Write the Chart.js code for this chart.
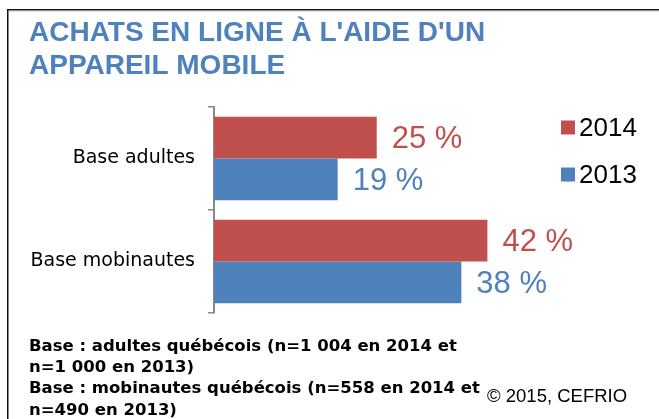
<!DOCTYPE html>
<html>
<head>
<meta charset="utf-8">
<script src="https://cdn.jsdelivr.net/npm/chart.js@4.4.1/dist/chart.umd.min.js"></script>
<style>
  html, body { margin: 0; padding: 0; background: #ffffff; }
  #wrap { position: relative; width: 659px; height: 419px; overflow: hidden; }
</style>
</head>
<body>
<div id="wrap"><canvas id="c" width="659" height="419"></canvas></div>
<script>
const titleLines = ["ACHATS EN LIGNE À L'AIDE D'UN", "APPAREIL MOBILE"];
const categories = ["Base adultes", "Base mobinautes"];
const seriesNames = ["2014", "2013"];
const values2014 = [25, 42];
const values2013 = [19, 38];
const footerLines = [
  "Base : adultes québécois (n=1 004 en 2014 et",
  "n=1 000 en 2013)",
  "Base : mobinautes québécois (n=558 en 2014 et",
  "n=490 en 2013)"
];
const copyrightText = "© 2015, CEFRIO";

const RED = "#C0504D";
const BLUE = "#4F81BD";
const SANS = "'Liberation Sans', Arial, sans-serif";
const WIDE = "'DejaVu Sans', sans-serif";

const framePlugin = {
  id: "frame",
  beforeDraw(chart) {
    const ctx = chart.ctx;
    ctx.save();
    ctx.fillStyle = "#ffffff";
    ctx.fillRect(0, 0, chart.width, chart.height);
    ctx.fillStyle = "#111111";
    ctx.fillRect(7, 9, chart.width - 7, 1.5);
    ctx.fillRect(7, 9, 1.5, chart.height - 9);
    ctx.fillStyle = "#9a9a9a";
    ctx.fillRect(8.5, 10.5, chart.width - 8.5, 0.8);
    ctx.restore();
  }
};

const valueLabelPlugin = {
  id: "valueLabels",
  afterDatasetsDraw(chart) {
    const ctx = chart.ctx;
    ctx.save();
    ctx.font = "31px " + SANS;
    ctx.textAlign = "left";
    ctx.textBaseline = "middle";
    chart.data.datasets.forEach((ds, i) => {
      const meta = chart.getDatasetMeta(i);
      meta.data.forEach((bar, j) => {
        ctx.fillStyle = ds.backgroundColor;
        ctx.fillText(ds.data[j] + " %", bar.x + 15, bar.y + 2);
      });
    });
    ctx.restore();
  }
};

const sideLegendPlugin = {
  id: "sideLegend",
  afterDraw(chart) {
    const ctx = chart.ctx;
    ctx.save();
    ctx.font = "26px " + SANS;
    ctx.textAlign = "left";
    ctx.textBaseline = "middle";
    const ys = [127.5, 174.5];
    chart.data.datasets.forEach((ds, i) => {
      ctx.fillStyle = ds.backgroundColor;
      ctx.fillRect(561, ys[i] - 7, 14, 14);
      ctx.fillStyle = "#000000";
      ctx.fillText(ds.label, 579, ys[i] + 1);
    });
    ctx.font = "18.5px " + SANS;
    ctx.textBaseline = "alphabetic";
    ctx.fillText(copyrightText, 487, 402);
    ctx.restore();
  }
};

new Chart(document.getElementById("c"), {
  type: "bar",
  data: {
    labels: categories,
    datasets: [
      { label: seriesNames[0], data: values2014, backgroundColor: RED, borderWidth: 0 },
      { label: seriesNames[1], data: values2013, backgroundColor: BLUE, borderWidth: 0 }
    ]
  },
  options: {
    indexAxis: "y",
    responsive: false,
    animation: false,
    devicePixelRatio: 1,
    categoryPercentage: 0.81,
    barPercentage: 1.0,
    layout: { padding: { top: 9, left: 29, right: 100, bottom: -2 } },
    plugins: {
      legend: { display: false },
      tooltip: { enabled: false },
      title: {
        display: true,
        text: titleLines,
        align: "start",
        color: BLUE,
        font: { family: SANS, size: 28, weight: "bold", lineHeight: 1.196 },
        padding: { top: 7.25, bottom: 23.75 }
      },
      subtitle: {
        display: true,
        position: "bottom",
        text: footerLines,
        align: "start",
        color: "#000000",
        font: { family: WIDE, size: 16.5, weight: "bold", lineHeight: 1.29 },
        padding: { top: 22.8, bottom: 0 }
      }
    },
    scales: {
      x: { display: false, min: 0, max: 53 },
      y: {
        offset: true,
        afterFit(scale) { scale.width = 185; },
        grid: { display: true, drawOnChartArea: false, offset: true, color: "#898989", lineWidth: 1.5, tickLength: 6 },
        border: { display: true, color: "#898989", width: 2 },
        ticks: { color: "#000000", padding: 13, font: { family: WIDE, size: 19 } }
      }
    }
  },
  plugins: [framePlugin, valueLabelPlugin, sideLegendPlugin]
});
</script>
</body>
</html>
